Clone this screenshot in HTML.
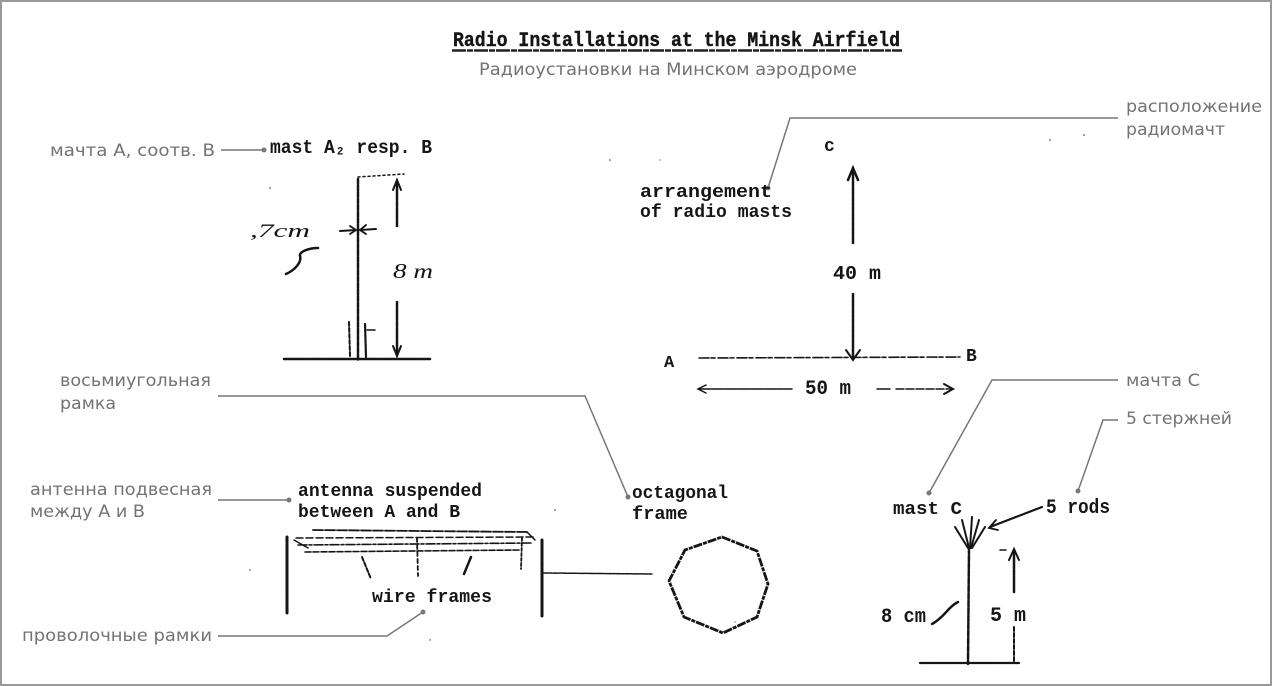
<!DOCTYPE html>
<html>
<head>
<meta charset="utf-8">
<style>
html,body{margin:0;padding:0;background:#fff;}
svg{display:block;}
.ty{font-family:"Liberation Mono","DejaVu Sans Mono",monospace;font-weight:bold;fill:#151515;}
.ru{font-family:"DejaVu Sans","Liberation Sans",sans-serif;fill:#737373;}
.hw{font-family:"Liberation Serif",serif;font-style:italic;fill:#151515;}
</style>
</head>
<body>
<svg width="1272" height="686" viewBox="0 0 1272 686" xmlns="http://www.w3.org/2000/svg">
  <rect x="1" y="1" width="1270" height="684" fill="#fff" stroke="#9a9a9a" stroke-width="2"/>

  <!-- Title -->
  <text class="ty" x="453" y="46" font-size="20" textLength="447" lengthAdjust="spacingAndGlyphs" stroke="#151515" stroke-width="0.4">Radio Installations at the Minsk Airfield</text>
  <line x1="452" y1="50.5" x2="902" y2="50.5" stroke="#222" stroke-width="2.5" stroke-dasharray="14 1 6 1"/>
  <text class="ru" x="479" y="75" font-size="17" textLength="378" lengthAdjust="spacingAndGlyphs">Радиоустановки на Минском аэродроме</text>

  <!-- Gray labels and leaders -->
  <g stroke="#777" stroke-width="1.5" fill="none">
    <polyline points="221,150 263,150"/>
    <polyline points="218,396 585,396 628,497"/>
    <polyline points="218,500 289,500"/>
    <polyline points="218,636 387,636 423,612"/>
    <polyline points="1118,118 790,118 768,188"/>
    <polyline points="1118,380 992,380 929,493"/>
    <polyline points="1118,420 1103,420 1078,491"/>
  </g>
  <g fill="#777">
    <circle cx="264" cy="150" r="2.5"/>
    <circle cx="628" cy="497" r="2.5"/>
    <circle cx="289" cy="500" r="2.5"/>
    <circle cx="423" cy="612" r="2.5"/>
    <circle cx="768" cy="188" r="2.5"/>
    <circle cx="929" cy="493" r="2.5"/>
    <circle cx="1078" cy="491" r="2.5"/>
  </g>
  <text class="ru" x="50" y="156" font-size="17" textLength="165" lengthAdjust="spacingAndGlyphs">мачта А, соотв. В</text>
  <text class="ru" x="60" y="386" font-size="17" textLength="151" lengthAdjust="spacingAndGlyphs">восьмиугольная</text>
  <text class="ru" x="60" y="409" font-size="17" textLength="56" lengthAdjust="spacingAndGlyphs">рамка</text>
  <text class="ru" x="30" y="495" font-size="17" textLength="182" lengthAdjust="spacingAndGlyphs">антенна подвесная</text>
  <text class="ru" x="30" y="517" font-size="17" textLength="115" lengthAdjust="spacingAndGlyphs">между А и В</text>
  <text class="ru" x="22" y="641" font-size="17" textLength="190" lengthAdjust="spacingAndGlyphs">проволочные рамки</text>
  <text class="ru" x="1126" y="112" font-size="17" textLength="136" lengthAdjust="spacingAndGlyphs">расположение</text>
  <text class="ru" x="1126" y="135" font-size="17" textLength="99" lengthAdjust="spacingAndGlyphs">радиомачт</text>
  <text class="ru" x="1126" y="386" font-size="17" textLength="74" lengthAdjust="spacingAndGlyphs">мачта С</text>
  <text class="ru" x="1126" y="424" font-size="17" textLength="106" lengthAdjust="spacingAndGlyphs">5 стержней</text>

  <!-- Mast A -->
  <text class="ty" x="270" y="153" font-size="19" textLength="162" lengthAdjust="spacingAndGlyphs">mast A₂ resp. B</text>
  <g stroke="#151515" fill="none" stroke-linecap="round">
    <line x1="358" y1="179" x2="358" y2="360" stroke-width="2.5" stroke-dasharray="5 1.5"/>
    <line x1="358" y1="177" x2="404" y2="174" stroke-width="1.5" stroke-dasharray="2 3"/>
    <line x1="397" y1="182" x2="397" y2="227" stroke-width="2.5" stroke-dasharray="5 1.5"/>
    <polyline points="393,190 397,180 401,190" stroke-width="2"/>
    <line x1="397" y1="302" x2="397" y2="354" stroke-width="2.5" stroke-dasharray="5 1.5"/>
    <polyline points="393,346 397,356 401,346" stroke-width="2"/>
    <line x1="284" y1="359" x2="430" y2="359" stroke-width="2.5" stroke-dasharray="8 1 4 1"/>
    <line x1="340" y1="231" x2="356" y2="230" stroke-width="2"/>
    <polyline points="350,226 356,230 350,234" stroke-width="1.8"/>
    <line x1="360" y1="230" x2="376" y2="229" stroke-width="2"/>
    <polyline points="366,225 360,230 366,234" stroke-width="1.8"/>
    <line x1="349" y1="322" x2="350" y2="356" stroke-width="2" stroke-dasharray="4 2"/>
    <line x1="365" y1="324" x2="366" y2="357" stroke-width="2.2" stroke-dasharray="4 1"/>
    <line x1="367" y1="330" x2="375" y2="330" stroke-width="1.5"/>
    <path d="M286 274 C295 270 302 262 300 256 C299 252 308 248 318 248" stroke-width="2.5"/>
  </g>
  <text class="hw" x="250" y="237" font-size="19" textLength="60" lengthAdjust="spacingAndGlyphs">,7cm</text>
  <text class="hw" x="393" y="278" font-size="21" textLength="40" lengthAdjust="spacingAndGlyphs">8 m</text>

  <!-- Arrangement of radio masts -->
  <text class="ty" x="640" y="197" font-size="18" textLength="132" lengthAdjust="spacingAndGlyphs">arrangement</text>
  <text class="ty" x="640" y="217" font-size="18" textLength="152" lengthAdjust="spacingAndGlyphs">of radio masts</text>
  <text class="ty" x="824" y="151" font-size="18">c</text>
  <text class="ty" x="833" y="279" font-size="19" textLength="48" lengthAdjust="spacingAndGlyphs">40 m</text>
  <text class="ty" x="664" y="367" font-size="17">A</text>
  <text class="ty" x="966" y="361" font-size="18">B</text>
  <text class="ty" x="805" y="394" font-size="20" textLength="46" lengthAdjust="spacingAndGlyphs">50 m</text>
  <g stroke="#151515" fill="none" stroke-linecap="round">
    <line x1="853" y1="172" x2="853" y2="243" stroke-width="2.5" stroke-dasharray="4 1"/>
    <polyline points="848,180 853,168 858,180" stroke-width="2.5"/>
    <line x1="853" y1="294" x2="853" y2="358" stroke-width="2.5" stroke-dasharray="4 1"/>
    <polyline points="846,350 853,360 860,350" stroke-width="2"/>
    <line x1="699" y1="358" x2="960" y2="357" stroke-width="1.6" stroke-dasharray="10 2 4 3"/>
    <line x1="699" y1="389" x2="792" y2="389" stroke-width="1.6" stroke-dasharray="12 1"/>
    <polyline points="706,385 698,389 706,393" stroke-width="1.5"/>
    <line x1="877" y1="389" x2="890" y2="389" stroke-width="1.5"/>
    <line x1="896" y1="389" x2="952" y2="389" stroke-width="1.5" stroke-dasharray="8 2"/>
    <polyline points="944,384 953,389 944,394" stroke-width="2"/>
  </g>

  <!-- Antenna between A and B -->
  <text class="ty" x="298" y="496" font-size="18" textLength="184" lengthAdjust="spacingAndGlyphs">antenna suspended</text>
  <text class="ty" x="298" y="517" font-size="18" textLength="162" lengthAdjust="spacingAndGlyphs">between A and B</text>
  <text class="ty" x="372" y="602" font-size="18" textLength="120" lengthAdjust="spacingAndGlyphs">wire frames</text>
  <g stroke="#151515" fill="none" stroke-linecap="round">
    <line x1="287" y1="537" x2="287" y2="613" stroke-width="3" stroke-dasharray="6 1"/>
    <line x1="542" y1="540" x2="542" y2="617" stroke-width="3" stroke-dasharray="6 1"/>
    <line x1="313" y1="530" x2="527" y2="532" stroke-width="1.8" stroke-dasharray="10 2"/>
    <line x1="296" y1="538" x2="535" y2="537" stroke-width="1.5" stroke-dasharray="7 3"/>
    <line x1="298" y1="545" x2="532" y2="543" stroke-width="1.6" stroke-dasharray="9 2 3 2"/>
    <line x1="305" y1="552" x2="520" y2="550" stroke-width="1.6" stroke-dasharray="6 2"/>
    <path d="M294 540 L308 548" stroke-width="1.5"/>
    <path d="M527 532 L535 540" stroke-width="1.5"/>
    <line x1="362" y1="557" x2="371" y2="579" stroke-width="2" stroke-dasharray="4 2"/>
    <line x1="417" y1="538" x2="418" y2="576" stroke-width="1.8" stroke-dasharray="4 3"/>
    <line x1="471" y1="557" x2="464" y2="574" stroke-width="2.5" stroke-dasharray="5 1"/>
    <line x1="522" y1="538" x2="521" y2="569" stroke-width="1.8" stroke-dasharray="3 2"/>
    <line x1="544" y1="573" x2="652" y2="574" stroke-width="1.5" stroke-dasharray="5 1 2 1"/>
  </g>

  <!-- Octagonal frame -->
  <text class="ty" x="632" y="498" font-size="18" textLength="96" lengthAdjust="spacingAndGlyphs">octagonal</text>
  <text class="ty" x="632" y="519" font-size="18" textLength="56" lengthAdjust="spacingAndGlyphs">frame</text>
  <polygon points="722,537 757,551 768,584 757,617 723,633 684,617 669,581 685,550" fill="none" stroke="#151515" stroke-width="2.8" stroke-dasharray="9 1 4 1" stroke-linejoin="round"/>

  <!-- Mast C -->
  <text class="ty" x="893" y="514" font-size="18" textLength="69" lengthAdjust="spacingAndGlyphs">mast C</text>
  <text class="ty" x="1046" y="513" font-size="20" textLength="64" lengthAdjust="spacingAndGlyphs">5 rods</text>
  <text class="ty" x="881" y="622" font-size="20" textLength="45" lengthAdjust="spacingAndGlyphs">8 cm</text>
  <text class="ty" x="990" y="621" font-size="20" textLength="36" lengthAdjust="spacingAndGlyphs">5 m</text>
  <g stroke="#151515" fill="none" stroke-linecap="round">
    <line x1="1042" y1="507" x2="990" y2="527" stroke-width="2.2"/>
    <polyline points="996,520 989,528 998,530" stroke-width="1.8"/>
    <line x1="955" y1="527" x2="968" y2="548" stroke-width="2"/>
    <line x1="962" y1="520" x2="969" y2="548" stroke-width="2"/>
    <line x1="972" y1="517" x2="970" y2="548" stroke-width="2"/>
    <line x1="979" y1="520" x2="971" y2="548" stroke-width="2"/>
    <line x1="985" y1="527" x2="972" y2="548" stroke-width="2"/>
    <line x1="969" y1="548" x2="968" y2="664" stroke-width="2.5" stroke-dasharray="6 1.5"/>
    <line x1="920" y1="663" x2="1020" y2="663" stroke-width="2.2" stroke-dasharray="8 1 3 1"/>
    <line x1="1014" y1="552" x2="1014" y2="592" stroke-width="2.5" stroke-dasharray="5 1"/>
    <polyline points="1009,560 1014,549 1019,560" stroke-width="2"/>
    <line x1="1014" y1="627" x2="1014" y2="663" stroke-width="2" stroke-dasharray="4 2"/>
    <line x1="1000" y1="550" x2="1006" y2="550" stroke-width="1.5"/>
    <path d="M932 624 C940 620 946 612 950 608 C953 605 956 603 958 602" stroke-width="2.5"/>
  </g>

  <!-- dust specks -->
  <g fill="#333">
    <circle cx="610" cy="160" r="0.8"/><circle cx="270" cy="188" r="0.8"/>
    <circle cx="1084" cy="135" r="0.8"/><circle cx="555" cy="510" r="0.8"/>
    <circle cx="995" cy="618" r="0.8"/><circle cx="250" cy="570" r="0.7"/>
    <circle cx="430" cy="640" r="0.7"/><circle cx="1050" cy="140" r="0.8"/>
    <circle cx="735" cy="622" r="0.6"/><circle cx="660" cy="160" r="0.6"/>
  </g>
</svg>
</body>
</html>
